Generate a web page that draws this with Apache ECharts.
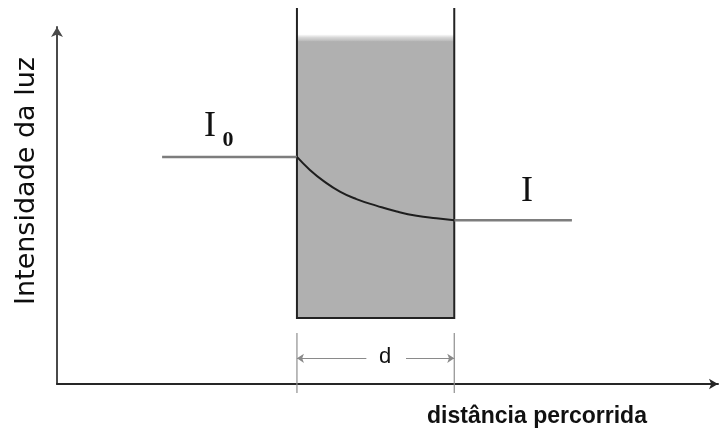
<!DOCTYPE html>
<html>
<head>
<meta charset="utf-8">
<script src="https://cdn.jsdelivr.net/npm/echarts@6/dist/echarts.min.js"></script>
<style>
html,body{margin:0;padding:0;background:#fff;}
#chart{width:721px;height:430px;}
</style>
</head>
<body>
<div id="chart"></div>
<script>
// ---- data (distance units 0-100 along x, intensity units 0-100 along y) ----
const incidentLine = [[15.9, 63.6], [36.3, 63.6]];
const transmittedLine = [[60.1, 45.9], [77.9, 45.9]];
const decayCurve = [[36.3, 63.6], [38.3, 59.9], [40.3, 56.9], [42.8, 53.9], [45.3, 51.8],
                    [48.4, 49.9], [51.4, 48.3], [54.4, 47.1], [57.4, 46.4], [60.1, 45.9]];
const mediumStart = 36.3;
const mediumEnd = 60.1;
const mediumBottom = 18.5;
const mediumFillTop = 96.0;
const mediumWallTop = 105.3;
const dimensionLevel = 7.2;
const dimensionTickTop = 14.3;
const dimensionTickBottom = -2.5;
const dimensionGapStart = 46.8;
const dimensionGapEnd = 52.8;
const leftTick = [[mediumStart, dimensionTickTop], [mediumStart, dimensionTickBottom]];
const rightTick = [[mediumEnd, dimensionTickTop], [mediumEnd, dimensionTickBottom]];

const yAxisTitle = 'Intensidade da luz';
const xAxisTitle = 'distância percorrida';
const mediumLabel = 'Meio';
const widthLabel = 'd';
const incidentLabel = 'I';
const incidentSub = '0';
const transmittedLabel = 'I';

const chart = echarts.init(document.getElementById('chart'), null, {renderer: 'canvas'});

const hiddenAxisParts = {
  axisTick: {show: false},
  axisLabel: {show: false},
  splitLine: {show: false}
};

const tickStyle = {color: '#8f8f8f', width: 1.2};

const option = {
  animation: false,
  backgroundColor: '#ffffff',
  grid: {left: 57, right: 3, top: 27, bottom: 46, containLabel: false},
  xAxis: Object.assign({
    type: 'value', min: 0, max: 100,
    axisLine: {show: true, onZero: false, symbol: ['none', 'arrow'], symbolSize: [8, 9],
      lineStyle: {color: '#262626', width: 2}}
  }, hiddenAxisParts),
  yAxis: Object.assign({
    type: 'value', min: 0, max: 100,
    axisLine: {show: true, onZero: false, symbol: ['none', 'arrow'], symbolSize: [9, 10],
      lineStyle: {color: '#4a4a4a', width: 2}}
  }, hiddenAxisParts),
  series: [
    {
      type: 'custom',
      name: 'medium',
      silent: true,
      clip: false,
      z: 1,
      data: [[mediumStart, mediumEnd, mediumBottom, mediumFillTop, mediumWallTop]],
      renderItem: function (params, api) {
        const bl = api.coord([api.value(0), api.value(2)]);
        const br = api.coord([api.value(1), api.value(2)]);
        const ft = api.coord([api.value(0), api.value(3)]);
        const wt = api.coord([api.value(0), api.value(4)]);
        const left = bl[0], right = br[0], bottom = bl[1];
        return {
          type: 'group',
          children: [
            {type: 'rect', shape: {x: left, y: ft[1], width: right - left, height: bottom - ft[1]},
             style: {fill: '#b0b0b0'}},
            {type: 'rect', shape: {x: left, y: ft[1] - 7, width: right - left, height: 8},
             style: {fill: new echarts.graphic.LinearGradient(0, 0, 0, 1, [
               {offset: 0, color: 'rgba(176,176,176,0)'},
               {offset: 0.4, color: 'rgba(176,176,176,0.5)'},
               {offset: 1, color: 'rgba(176,176,176,1)'}])}},
            {type: 'polyline', shape: {points: [[left, wt[1]], [left, bottom], [right, bottom], [right, wt[1]]]},
             style: {stroke: '#222', lineWidth: 2, fill: null}}
          ]
        };
      }
    },
    {
      type: 'line', name: 'I0', data: incidentLine, symbol: 'none', silent: true, clip: false, z: 3,
      lineStyle: {color: '#7d7d7d', width: 2.5}
    },
    {
      type: 'line', name: 'I', data: transmittedLine, symbol: 'none', silent: true, clip: false, z: 3,
      lineStyle: {color: '#7d7d7d', width: 2.5},
      markLine: {
        silent: true, animation: false,
        label: {show: false},
        lineStyle: {color: '#8a8a8a', width: 1.2, type: 'solid'},
        symbolSize: [7, 7],
        data: [
          [{coord: [mediumStart, dimensionLevel], symbol: 'arrow'}, {coord: [dimensionGapStart, dimensionLevel], symbol: 'none'}],
          [{coord: [dimensionGapEnd, dimensionLevel], symbol: 'none'}, {coord: [mediumEnd, dimensionLevel], symbol: 'arrow'}]
        ]
      }
    },
    {
      type: 'line', name: 'tickL', data: leftTick, symbol: 'none', silent: true, clip: false, z: 2,
      lineStyle: tickStyle
    },
    {
      type: 'line', name: 'tickR', data: rightTick, symbol: 'none', silent: true, clip: false, z: 2,
      lineStyle: tickStyle
    },
    {
      type: 'line', name: 'decay', data: decayCurve, symbol: 'none', smooth: true, silent: true, clip: false, z: 4,
      lineStyle: {color: '#1e1e1e', width: 2}
    }
  ],
  graphic: [
    {type: 'text', x: 27, y: 181, rotation: Math.PI / 2, silent: true,
     style: {text: yAxisTitle, font: '27px "DejaVu Sans"', fill: '#0e0e0e', align: 'center', verticalAlign: 'middle'}},
    {type: 'text', x: 537, y: 417, silent: true,
     style: {text: xAxisTitle, font: 'bold 23px "Liberation Sans"', fill: '#111', align: 'center', verticalAlign: 'middle'}},
    {type: 'text', x: 366, y: 108, silent: true,
     style: {text: mediumLabel, font: 'bold 23px "Liberation Sans"', fill: '#111', align: 'center', verticalAlign: 'middle'}},
    {type: 'text', x: 385, y: 357, silent: true,
     style: {text: widthLabel, font: '22px "Liberation Sans"', fill: '#111', align: 'center', verticalAlign: 'middle'}},
    {type: 'text', x: 210, y: 127, silent: true,
     style: {text: incidentLabel, font: '36px "Liberation Serif"', fill: '#111', align: 'center', verticalAlign: 'middle'}},
    {type: 'text', x: 228, y: 140, silent: true,
     style: {text: incidentSub, font: 'bold 22px "Liberation Serif"', fill: '#111', align: 'center', verticalAlign: 'middle'}},
    {type: 'text', x: 527, y: 192, silent: true,
     style: {text: transmittedLabel, font: '36px "Liberation Serif"', fill: '#111', align: 'center', verticalAlign: 'middle'}}
  ]
};

chart.setOption(option);
</script>
</body>
</html>
